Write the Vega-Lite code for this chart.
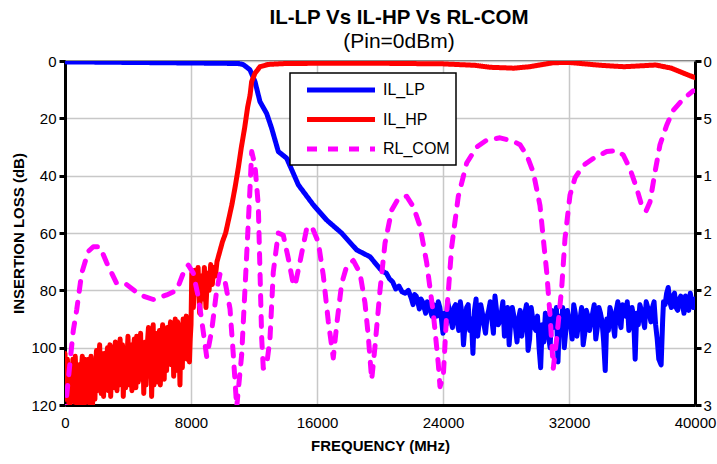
{
  "$schema": "https://vega.github.io/schema/vega-lite/v6.json",
  "width": 630,
  "height": 344,
  "autosize": {"type": "none"},
  "padding": {"left": 65, "top": 61, "right": 22, "bottom": 59},
  "background": "white",
  "title": {
    "text": "IL-LP Vs IL-HP Vs RL-COM",
    "subtitle": "(Pin=0dBm)",
    "font": "Liberation Sans",
    "fontSize": 20.5,
    "fontWeight": "bold",
    "color": "black",
    "subtitleFont": "Liberation Sans",
    "subtitleFontSize": 21,
    "subtitleColor": "black",
    "subtitlePadding": 3,
    "anchor": "middle",
    "frame": "group",
    "dx": 19,
    "offset": 2
  },
  "data": {
    "values": [
      {"s": "IL_LP", "f": 0, "v": 0.3}, {"s": "IL_LP", "f": 2000, "v": 0.4}, {"s": "IL_LP", "f": 4000, "v": 0.5},
      {"s": "IL_LP", "f": 6000, "v": 0.6}, {"s": "IL_LP", "f": 8000, "v": 0.7}, {"s": "IL_LP", "f": 10000, "v": 0.8},
      {"s": "IL_LP", "f": 11000, "v": 0.9}, {"s": "IL_LP", "f": 11300, "v": 1.2}, {"s": "IL_LP", "f": 11500, "v": 2},
      {"s": "IL_LP", "f": 11745, "v": 3.1}, {"s": "IL_LP", "f": 12063, "v": 7.2}, {"s": "IL_LP", "f": 12380, "v": 14.2},
      {"s": "IL_LP", "f": 12804, "v": 18.3}, {"s": "IL_LP", "f": 13122, "v": 23.5}, {"s": "IL_LP", "f": 13545, "v": 31.6},
      {"s": "IL_LP", "f": 14074, "v": 33.9}, {"s": "IL_LP", "f": 14814, "v": 43.2}, {"s": "IL_LP", "f": 15767, "v": 50.2},
      {"s": "IL_LP", "f": 16614, "v": 55.5}, {"s": "IL_LP", "f": 17560, "v": 60}, {"s": "IL_LP", "f": 18520, "v": 65.9},
      {"s": "IL_LP", "f": 19365, "v": 68.3}, {"s": "IL_LP", "f": 20000, "v": 72.5}, {"s": "IL_LP", "f": 20200, "v": 73.5},
      {"s": "IL_LP", "f": 20400, "v": 74}, {"s": "IL_LP", "f": 20600, "v": 76}, {"s": "IL_LP", "f": 20800, "v": 77},
      {"s": "IL_LP", "f": 21000, "v": 79.5}, {"s": "IL_LP", "f": 21200, "v": 78.5}, {"s": "IL_LP", "f": 21400, "v": 80.5},
      {"s": "IL_LP", "f": 21600, "v": 81}, {"s": "IL_LP", "f": 21800, "v": 80}, {"s": "IL_LP", "f": 22000, "v": 83},
      {"s": "IL_LP", "f": 22100, "v": 85}, {"s": "IL_LP", "f": 22200, "v": 81.5}, {"s": "IL_LP", "f": 22300, "v": 82},
      {"s": "IL_LP", "f": 22400, "v": 84}, {"s": "IL_LP", "f": 22500, "v": 86.5}, {"s": "IL_LP", "f": 22600, "v": 83},
      {"s": "IL_LP", "f": 22700, "v": 84}, {"s": "IL_LP", "f": 22800, "v": 86}, {"s": "IL_LP", "f": 22900, "v": 88},
      {"s": "IL_LP", "f": 23000, "v": 84}, {"s": "IL_LP", "f": 23100, "v": 85}, {"s": "IL_LP", "f": 23200, "v": 87},
      {"s": "IL_LP", "f": 23300, "v": 89}, {"s": "IL_LP", "f": 23400, "v": 85}, {"s": "IL_LP", "f": 23500, "v": 87},
      {"s": "IL_LP", "f": 23600, "v": 89}, {"s": "IL_LP", "f": 23700, "v": 84}, {"s": "IL_LP", "f": 23800, "v": 86},
      {"s": "IL_LP", "f": 23900, "v": 90}, {"s": "IL_LP", "f": 24000, "v": 95}, {"s": "IL_LP", "f": 24100, "v": 88},
      {"s": "IL_LP", "f": 24200, "v": 92}, {"s": "IL_LP", "f": 24300, "v": 84}, {"s": "IL_LP", "f": 24400, "v": 87},
      {"s": "IL_LP", "f": 24500, "v": 90}, {"s": "IL_LP", "f": 24600, "v": 93}, {"s": "IL_LP", "f": 24700, "v": 86},
      {"s": "IL_LP", "f": 24800, "v": 85}, {"s": "IL_LP", "f": 24900, "v": 91}, {"s": "IL_LP", "f": 25000, "v": 94},
      {"s": "IL_LP", "f": 25100, "v": 84}, {"s": "IL_LP", "f": 25200, "v": 88}, {"s": "IL_LP", "f": 25300, "v": 99},
      {"s": "IL_LP", "f": 25400, "v": 92}, {"s": "IL_LP", "f": 25500, "v": 86}, {"s": "IL_LP", "f": 25600, "v": 85},
      {"s": "IL_LP", "f": 25700, "v": 94}, {"s": "IL_LP", "f": 25800, "v": 90}, {"s": "IL_LP", "f": 25900, "v": 102},
      {"s": "IL_LP", "f": 26000, "v": 87}, {"s": "IL_LP", "f": 26100, "v": 83}, {"s": "IL_LP", "f": 26200, "v": 96},
      {"s": "IL_LP", "f": 26300, "v": 91}, {"s": "IL_LP", "f": 26400, "v": 85}, {"s": "IL_LP", "f": 26500, "v": 88},
      {"s": "IL_LP", "f": 26600, "v": 92}, {"s": "IL_LP", "f": 26700, "v": 95}, {"s": "IL_LP", "f": 26800, "v": 89},
      {"s": "IL_LP", "f": 26900, "v": 87}, {"s": "IL_LP", "f": 27000, "v": 84}, {"s": "IL_LP", "f": 27100, "v": 90},
      {"s": "IL_LP", "f": 27200, "v": 95}, {"s": "IL_LP", "f": 27300, "v": 82}, {"s": "IL_LP", "f": 27400, "v": 87},
      {"s": "IL_LP", "f": 27500, "v": 92}, {"s": "IL_LP", "f": 27600, "v": 91}, {"s": "IL_LP", "f": 27700, "v": 88},
      {"s": "IL_LP", "f": 27800, "v": 84}, {"s": "IL_LP", "f": 27900, "v": 96}, {"s": "IL_LP", "f": 28000, "v": 92},
      {"s": "IL_LP", "f": 28100, "v": 86}, {"s": "IL_LP", "f": 28200, "v": 99}, {"s": "IL_LP", "f": 28300, "v": 91},
      {"s": "IL_LP", "f": 28400, "v": 86}, {"s": "IL_LP", "f": 28500, "v": 89}, {"s": "IL_LP", "f": 28600, "v": 93},
      {"s": "IL_LP", "f": 28700, "v": 98}, {"s": "IL_LP", "f": 28800, "v": 90}, {"s": "IL_LP", "f": 28900, "v": 87},
      {"s": "IL_LP", "f": 29000, "v": 96}, {"s": "IL_LP", "f": 29100, "v": 92}, {"s": "IL_LP", "f": 29200, "v": 88},
      {"s": "IL_LP", "f": 29300, "v": 85}, {"s": "IL_LP", "f": 29400, "v": 101}, {"s": "IL_LP", "f": 29500, "v": 97},
      {"s": "IL_LP", "f": 29600, "v": 86}, {"s": "IL_LP", "f": 29700, "v": 90}, {"s": "IL_LP", "f": 29800, "v": 93},
      {"s": "IL_LP", "f": 29900, "v": 94}, {"s": "IL_LP", "f": 30000, "v": 89}, {"s": "IL_LP", "f": 30100, "v": 100},
      {"s": "IL_LP", "f": 30200, "v": 107}, {"s": "IL_LP", "f": 30300, "v": 92}, {"s": "IL_LP", "f": 30400, "v": 98},
      {"s": "IL_LP", "f": 30500, "v": 88}, {"s": "IL_LP", "f": 30600, "v": 90}, {"s": "IL_LP", "f": 30700, "v": 96},
      {"s": "IL_LP", "f": 30800, "v": 100}, {"s": "IL_LP", "f": 30900, "v": 87}, {"s": "IL_LP", "f": 31000, "v": 93},
      {"s": "IL_LP", "f": 31100, "v": 91}, {"s": "IL_LP", "f": 31200, "v": 86}, {"s": "IL_LP", "f": 31300, "v": 105},
      {"s": "IL_LP", "f": 31400, "v": 89}, {"s": "IL_LP", "f": 31500, "v": 95}, {"s": "IL_LP", "f": 31600, "v": 86},
      {"s": "IL_LP", "f": 31700, "v": 100}, {"s": "IL_LP", "f": 31800, "v": 94}, {"s": "IL_LP", "f": 31900, "v": 87},
      {"s": "IL_LP", "f": 32000, "v": 90}, {"s": "IL_LP", "f": 32100, "v": 92}, {"s": "IL_LP", "f": 32200, "v": 97},
      {"s": "IL_LP", "f": 32300, "v": 85}, {"s": "IL_LP", "f": 32400, "v": 88}, {"s": "IL_LP", "f": 32500, "v": 96},
      {"s": "IL_LP", "f": 32600, "v": 92}, {"s": "IL_LP", "f": 32700, "v": 90}, {"s": "IL_LP", "f": 32800, "v": 86},
      {"s": "IL_LP", "f": 32900, "v": 99}, {"s": "IL_LP", "f": 33000, "v": 95}, {"s": "IL_LP", "f": 33100, "v": 87},
      {"s": "IL_LP", "f": 33200, "v": 89}, {"s": "IL_LP", "f": 33300, "v": 94}, {"s": "IL_LP", "f": 33400, "v": 91},
      {"s": "IL_LP", "f": 33500, "v": 88}, {"s": "IL_LP", "f": 33600, "v": 85}, {"s": "IL_LP", "f": 33700, "v": 97},
      {"s": "IL_LP", "f": 33800, "v": 93}, {"s": "IL_LP", "f": 33900, "v": 86}, {"s": "IL_LP", "f": 34000, "v": 88},
      {"s": "IL_LP", "f": 34100, "v": 91}, {"s": "IL_LP", "f": 34200, "v": 98}, {"s": "IL_LP", "f": 34300, "v": 108},
      {"s": "IL_LP", "f": 34400, "v": 90}, {"s": "IL_LP", "f": 34500, "v": 94}, {"s": "IL_LP", "f": 34600, "v": 86},
      {"s": "IL_LP", "f": 34700, "v": 88}, {"s": "IL_LP", "f": 34800, "v": 92}, {"s": "IL_LP", "f": 34900, "v": 96},
      {"s": "IL_LP", "f": 35000, "v": 87}, {"s": "IL_LP", "f": 35100, "v": 84}, {"s": "IL_LP", "f": 35200, "v": 90},
      {"s": "IL_LP", "f": 35300, "v": 93}, {"s": "IL_LP", "f": 35400, "v": 85}, {"s": "IL_LP", "f": 35500, "v": 88},
      {"s": "IL_LP", "f": 35600, "v": 89}, {"s": "IL_LP", "f": 35700, "v": 84}, {"s": "IL_LP", "f": 35800, "v": 94},
      {"s": "IL_LP", "f": 35900, "v": 91}, {"s": "IL_LP", "f": 36000, "v": 86}, {"s": "IL_LP", "f": 36100, "v": 89},
      {"s": "IL_LP", "f": 36200, "v": 104}, {"s": "IL_LP", "f": 36300, "v": 88}, {"s": "IL_LP", "f": 36400, "v": 92},
      {"s": "IL_LP", "f": 36500, "v": 85}, {"s": "IL_LP", "f": 36600, "v": 87}, {"s": "IL_LP", "f": 36700, "v": 90},
      {"s": "IL_LP", "f": 36800, "v": 93}, {"s": "IL_LP", "f": 36900, "v": 84}, {"s": "IL_LP", "f": 37000, "v": 86},
      {"s": "IL_LP", "f": 37100, "v": 88}, {"s": "IL_LP", "f": 37200, "v": 91}, {"s": "IL_LP", "f": 37300, "v": 86},
      {"s": "IL_LP", "f": 37400, "v": 84}, {"s": "IL_LP", "f": 37500, "v": 92}, {"s": "IL_LP", "f": 37600, "v": 97},
      {"s": "IL_LP", "f": 37700, "v": 104}, {"s": "IL_LP", "f": 37850, "v": 106}, {"s": "IL_LP", "f": 37950, "v": 90},
      {"s": "IL_LP", "f": 38000, "v": 84}, {"s": "IL_LP", "f": 38100, "v": 85}, {"s": "IL_LP", "f": 38200, "v": 81},
      {"s": "IL_LP", "f": 38300, "v": 79}, {"s": "IL_LP", "f": 38400, "v": 84}, {"s": "IL_LP", "f": 38500, "v": 86},
      {"s": "IL_LP", "f": 38600, "v": 82}, {"s": "IL_LP", "f": 38700, "v": 81}, {"s": "IL_LP", "f": 38800, "v": 86},
      {"s": "IL_LP", "f": 38900, "v": 87}, {"s": "IL_LP", "f": 39000, "v": 83}, {"s": "IL_LP", "f": 39100, "v": 82},
      {"s": "IL_LP", "f": 39200, "v": 85}, {"s": "IL_LP", "f": 39300, "v": 88}, {"s": "IL_LP", "f": 39400, "v": 82},
      {"s": "IL_LP", "f": 39500, "v": 84}, {"s": "IL_LP", "f": 39600, "v": 87}, {"s": "IL_LP", "f": 39700, "v": 81},
      {"s": "IL_LP", "f": 39800, "v": 84}, {"s": "IL_LP", "f": 39900, "v": 86}, {"s": "IL_LP", "f": 40000, "v": 83},

      {"s": "IL_HP", "f": 0, "v": 102}, {"s": "IL_HP", "f": 50, "v": 114}, {"s": "IL_HP", "f": 100, "v": 118},
      {"s": "IL_HP", "f": 150, "v": 104}, {"s": "IL_HP", "f": 200, "v": 108}, {"s": "IL_HP", "f": 250, "v": 120},
      {"s": "IL_HP", "f": 300, "v": 121}, {"s": "IL_HP", "f": 350, "v": 106}, {"s": "IL_HP", "f": 400, "v": 112},
      {"s": "IL_HP", "f": 450, "v": 118}, {"s": "IL_HP", "f": 500, "v": 104}, {"s": "IL_HP", "f": 550, "v": 109},
      {"s": "IL_HP", "f": 600, "v": 119}, {"s": "IL_HP", "f": 650, "v": 103}, {"s": "IL_HP", "f": 700, "v": 110},
      {"s": "IL_HP", "f": 750, "v": 115}, {"s": "IL_HP", "f": 800, "v": 122}, {"s": "IL_HP", "f": 850, "v": 112},
      {"s": "IL_HP", "f": 900, "v": 106}, {"s": "IL_HP", "f": 950, "v": 120}, {"s": "IL_HP", "f": 1000, "v": 116},
      {"s": "IL_HP", "f": 1050, "v": 107}, {"s": "IL_HP", "f": 1100, "v": 103}, {"s": "IL_HP", "f": 1150, "v": 114},
      {"s": "IL_HP", "f": 1200, "v": 120}, {"s": "IL_HP", "f": 1250, "v": 104}, {"s": "IL_HP", "f": 1300, "v": 109},
      {"s": "IL_HP", "f": 1350, "v": 119}, {"s": "IL_HP", "f": 1400, "v": 117}, {"s": "IL_HP", "f": 1450, "v": 108},
      {"s": "IL_HP", "f": 1500, "v": 104}, {"s": "IL_HP", "f": 1550, "v": 113}, {"s": "IL_HP", "f": 1600, "v": 121},
      {"s": "IL_HP", "f": 1650, "v": 103}, {"s": "IL_HP", "f": 1700, "v": 111}, {"s": "IL_HP", "f": 1750, "v": 120},
      {"s": "IL_HP", "f": 1800, "v": 105}, {"s": "IL_HP", "f": 1850, "v": 110}, {"s": "IL_HP", "f": 1900, "v": 118},
      {"s": "IL_HP", "f": 1950, "v": 106}, {"s": "IL_HP", "f": 2000, "v": 101}, {"s": "IL_HP", "f": 2050, "v": 115},
      {"s": "IL_HP", "f": 2100, "v": 113}, {"s": "IL_HP", "f": 2150, "v": 104}, {"s": "IL_HP", "f": 2200, "v": 99},
      {"s": "IL_HP", "f": 2250, "v": 110}, {"s": "IL_HP", "f": 2300, "v": 116}, {"s": "IL_HP", "f": 2350, "v": 102},
      {"s": "IL_HP", "f": 2400, "v": 108}, {"s": "IL_HP", "f": 2450, "v": 117}, {"s": "IL_HP", "f": 2500, "v": 102},
      {"s": "IL_HP", "f": 2550, "v": 109}, {"s": "IL_HP", "f": 2600, "v": 114}, {"s": "IL_HP", "f": 2650, "v": 103},
      {"s": "IL_HP", "f": 2700, "v": 100}, {"s": "IL_HP", "f": 2750, "v": 115}, {"s": "IL_HP", "f": 2800, "v": 111},
      {"s": "IL_HP", "f": 2850, "v": 99}, {"s": "IL_HP", "f": 2900, "v": 117}, {"s": "IL_HP", "f": 2950, "v": 108},
      {"s": "IL_HP", "f": 3000, "v": 103}, {"s": "IL_HP", "f": 3050, "v": 114}, {"s": "IL_HP", "f": 3100, "v": 109},
      {"s": "IL_HP", "f": 3150, "v": 100}, {"s": "IL_HP", "f": 3200, "v": 98}, {"s": "IL_HP", "f": 3250, "v": 110},
      {"s": "IL_HP", "f": 3300, "v": 115}, {"s": "IL_HP", "f": 3350, "v": 102}, {"s": "IL_HP", "f": 3400, "v": 106},
      {"s": "IL_HP", "f": 3450, "v": 113}, {"s": "IL_HP", "f": 3500, "v": 97}, {"s": "IL_HP", "f": 3550, "v": 105},
      {"s": "IL_HP", "f": 3600, "v": 112}, {"s": "IL_HP", "f": 3650, "v": 99}, {"s": "IL_HP", "f": 3700, "v": 117},
      {"s": "IL_HP", "f": 3750, "v": 108}, {"s": "IL_HP", "f": 3800, "v": 101}, {"s": "IL_HP", "f": 3850, "v": 114},
      {"s": "IL_HP", "f": 3900, "v": 108}, {"s": "IL_HP", "f": 3950, "v": 102}, {"s": "IL_HP", "f": 4000, "v": 96},
      {"s": "IL_HP", "f": 4050, "v": 107}, {"s": "IL_HP", "f": 4100, "v": 113}, {"s": "IL_HP", "f": 4150, "v": 99},
      {"s": "IL_HP", "f": 4200, "v": 104}, {"s": "IL_HP", "f": 4250, "v": 115}, {"s": "IL_HP", "f": 4300, "v": 110},
      {"s": "IL_HP", "f": 4350, "v": 101}, {"s": "IL_HP", "f": 4400, "v": 97}, {"s": "IL_HP", "f": 4450, "v": 106},
      {"s": "IL_HP", "f": 4500, "v": 114}, {"s": "IL_HP", "f": 4550, "v": 96}, {"s": "IL_HP", "f": 4600, "v": 100},
      {"s": "IL_HP", "f": 4650, "v": 112}, {"s": "IL_HP", "f": 4700, "v": 108}, {"s": "IL_HP", "f": 4750, "v": 103},
      {"s": "IL_HP", "f": 4800, "v": 95}, {"s": "IL_HP", "f": 4850, "v": 109}, {"s": "IL_HP", "f": 4900, "v": 111},
      {"s": "IL_HP", "f": 4950, "v": 99}, {"s": "IL_HP", "f": 5000, "v": 116}, {"s": "IL_HP", "f": 5050, "v": 104},
      {"s": "IL_HP", "f": 5100, "v": 98}, {"s": "IL_HP", "f": 5150, "v": 113}, {"s": "IL_HP", "f": 5200, "v": 105},
      {"s": "IL_HP", "f": 5250, "v": 97}, {"s": "IL_HP", "f": 5300, "v": 93}, {"s": "IL_HP", "f": 5350, "v": 102},
      {"s": "IL_HP", "f": 5400, "v": 110}, {"s": "IL_HP", "f": 5450, "v": 95}, {"s": "IL_HP", "f": 5500, "v": 117},
      {"s": "IL_HP", "f": 5550, "v": 106}, {"s": "IL_HP", "f": 5600, "v": 92}, {"s": "IL_HP", "f": 5650, "v": 113},
      {"s": "IL_HP", "f": 5700, "v": 103}, {"s": "IL_HP", "f": 5750, "v": 95}, {"s": "IL_HP", "f": 5800, "v": 96},
      {"s": "IL_HP", "f": 5850, "v": 104}, {"s": "IL_HP", "f": 5900, "v": 112}, {"s": "IL_HP", "f": 5950, "v": 99},
      {"s": "IL_HP", "f": 6000, "v": 94}, {"s": "IL_HP", "f": 6050, "v": 113}, {"s": "IL_HP", "f": 6100, "v": 107},
      {"s": "IL_HP", "f": 6150, "v": 96}, {"s": "IL_HP", "f": 6200, "v": 92}, {"s": "IL_HP", "f": 6250, "v": 105},
      {"s": "IL_HP", "f": 6300, "v": 111}, {"s": "IL_HP", "f": 6350, "v": 94}, {"s": "IL_HP", "f": 6400, "v": 98},
      {"s": "IL_HP", "f": 6450, "v": 108}, {"s": "IL_HP", "f": 6500, "v": 93}, {"s": "IL_HP", "f": 6550, "v": 101},
      {"s": "IL_HP", "f": 6600, "v": 104}, {"s": "IL_HP", "f": 6650, "v": 94}, {"s": "IL_HP", "f": 6700, "v": 91},
      {"s": "IL_HP", "f": 6750, "v": 106}, {"s": "IL_HP", "f": 6800, "v": 100}, {"s": "IL_HP", "f": 6850, "v": 93},
      {"s": "IL_HP", "f": 6900, "v": 110}, {"s": "IL_HP", "f": 6950, "v": 99}, {"s": "IL_HP", "f": 7000, "v": 90},
      {"s": "IL_HP", "f": 7050, "v": 108}, {"s": "IL_HP", "f": 7100, "v": 97}, {"s": "IL_HP", "f": 7150, "v": 91},
      {"s": "IL_HP", "f": 7200, "v": 92}, {"s": "IL_HP", "f": 7250, "v": 101}, {"s": "IL_HP", "f": 7300, "v": 113},
      {"s": "IL_HP", "f": 7350, "v": 96}, {"s": "IL_HP", "f": 7400, "v": 95}, {"s": "IL_HP", "f": 7450, "v": 107},
      {"s": "IL_HP", "f": 7500, "v": 90}, {"s": "IL_HP", "f": 7550, "v": 94}, {"s": "IL_HP", "f": 7600, "v": 102},
      {"s": "IL_HP", "f": 7650, "v": 92}, {"s": "IL_HP", "f": 7700, "v": 89}, {"s": "IL_HP", "f": 7750, "v": 104},
      {"s": "IL_HP", "f": 7800, "v": 96}, {"s": "IL_HP", "f": 7850, "v": 91}, {"s": "IL_HP", "f": 7900, "v": 105},
      {"s": "IL_HP", "f": 7950, "v": 97}, {"s": "IL_HP", "f": 8000, "v": 92},
      {"s": "IL_HP", "f": 8050, "v": 74}, {"s": "IL_HP", "f": 8150, "v": 86}, {"s": "IL_HP", "f": 8250, "v": 73},
      {"s": "IL_HP", "f": 8350, "v": 81}, {"s": "IL_HP", "f": 8450, "v": 72}, {"s": "IL_HP", "f": 8550, "v": 88},
      {"s": "IL_HP", "f": 8650, "v": 75}, {"s": "IL_HP", "f": 8750, "v": 83}, {"s": "IL_HP", "f": 8850, "v": 72},
      {"s": "IL_HP", "f": 8950, "v": 86}, {"s": "IL_HP", "f": 9050, "v": 74}, {"s": "IL_HP", "f": 9150, "v": 80},
      {"s": "IL_HP", "f": 9250, "v": 71}, {"s": "IL_HP", "f": 9350, "v": 78}, {"s": "IL_HP", "f": 9450, "v": 72},
      {"s": "IL_HP", "f": 9550, "v": 75}, {"s": "IL_HP", "f": 9650, "v": 70}, {"s": "IL_HP", "f": 9750, "v": 68},
      {"s": "IL_HP", "f": 9850, "v": 66}, {"s": "IL_HP", "f": 10000, "v": 63}, {"s": "IL_HP", "f": 10200, "v": 60},
      {"s": "IL_HP", "f": 10400, "v": 55}, {"s": "IL_HP", "f": 10600, "v": 50}, {"s": "IL_HP", "f": 10800, "v": 44},
      {"s": "IL_HP", "f": 11000, "v": 37.4}, {"s": "IL_HP", "f": 11200, "v": 30}, {"s": "IL_HP", "f": 11400, "v": 23.5},
      {"s": "IL_HP", "f": 11600, "v": 16}, {"s": "IL_HP", "f": 11750, "v": 11.9}, {"s": "IL_HP", "f": 11850, "v": 7.2},
      {"s": "IL_HP", "f": 12060, "v": 4.3}, {"s": "IL_HP", "f": 12380, "v": 2}, {"s": "IL_HP", "f": 12900, "v": 1.2},
      {"s": "IL_HP", "f": 13900, "v": 0.9}, {"s": "IL_HP", "f": 16000, "v": 0.8}, {"s": "IL_HP", "f": 20000, "v": 0.8},
      {"s": "IL_HP", "f": 24000, "v": 1.0}, {"s": "IL_HP", "f": 26000, "v": 1.5}, {"s": "IL_HP", "f": 27000, "v": 2.2},
      {"s": "IL_HP", "f": 28500, "v": 2.5}, {"s": "IL_HP", "f": 29500, "v": 2.0}, {"s": "IL_HP", "f": 31000, "v": 0.6},
      {"s": "IL_HP", "f": 32000, "v": 0.5}, {"s": "IL_HP", "f": 34000, "v": 1.5}, {"s": "IL_HP", "f": 35500, "v": 2.0},
      {"s": "IL_HP", "f": 37500, "v": 1.4}, {"s": "IL_HP", "f": 38500, "v": 2.5}, {"s": "IL_HP", "f": 39300, "v": 4.3},
      {"s": "IL_HP", "f": 40000, "v": 5.8},

      {"s": "RL_COM", "f": 0, "v": 31}, {"s": "RL_COM", "f": 63, "v": 29.8}, {"s": "RL_COM", "f": 317, "v": 26.3},
      {"s": "RL_COM", "f": 527, "v": 23.5}, {"s": "RL_COM", "f": 743, "v": 21.7}, {"s": "RL_COM", "f": 1060, "v": 18.5},
      {"s": "RL_COM", "f": 1480, "v": 16.6}, {"s": "RL_COM", "f": 1797, "v": 16.2}, {"s": "RL_COM", "f": 2222, "v": 16.2},
      {"s": "RL_COM", "f": 2648, "v": 17.6}, {"s": "RL_COM", "f": 3282, "v": 19.4}, {"s": "RL_COM", "f": 3917, "v": 19.5},
      {"s": "RL_COM", "f": 4762, "v": 20.4}, {"s": "RL_COM", "f": 5606, "v": 20.8}, {"s": "RL_COM", "f": 6457, "v": 20.4},
      {"s": "RL_COM", "f": 7092, "v": 20.0}, {"s": "RL_COM", "f": 7619, "v": 18.1}, {"s": "RL_COM", "f": 7828, "v": 17.8},
      {"s": "RL_COM", "f": 8146, "v": 18.5}, {"s": "RL_COM", "f": 8463, "v": 20.6}, {"s": "RL_COM", "f": 8679, "v": 22.6},
      {"s": "RL_COM", "f": 8997, "v": 25.8}, {"s": "RL_COM", "f": 9314, "v": 23.5}, {"s": "RL_COM", "f": 9631, "v": 20.0},
      {"s": "RL_COM", "f": 9841, "v": 18.6}, {"s": "RL_COM", "f": 10158, "v": 19.2}, {"s": "RL_COM", "f": 10476, "v": 21.6},
      {"s": "RL_COM", "f": 10685, "v": 25.6}, {"s": "RL_COM", "f": 10901, "v": 30.2}, {"s": "RL_COM", "f": 11219, "v": 25.6},
      {"s": "RL_COM", "f": 11536, "v": 16.9}, {"s": "RL_COM", "f": 11746, "v": 11.1}, {"s": "RL_COM", "f": 11854, "v": 7.9},
      {"s": "RL_COM", "f": 12063, "v": 9.1}, {"s": "RL_COM", "f": 12273, "v": 12.6}, {"s": "RL_COM", "f": 12381, "v": 18.4},
      {"s": "RL_COM", "f": 12489, "v": 24.2}, {"s": "RL_COM", "f": 12590, "v": 26.8}, {"s": "RL_COM", "f": 12806, "v": 26.5},
      {"s": "RL_COM", "f": 13015, "v": 24.2}, {"s": "RL_COM", "f": 13225, "v": 18.4}, {"s": "RL_COM", "f": 13542, "v": 15.0},
      {"s": "RL_COM", "f": 13860, "v": 15.2}, {"s": "RL_COM", "f": 14177, "v": 17.2}, {"s": "RL_COM", "f": 14495, "v": 19.5},
      {"s": "RL_COM", "f": 14603, "v": 19.6}, {"s": "RL_COM", "f": 14920, "v": 17.5}, {"s": "RL_COM", "f": 15346, "v": 14.6},
      {"s": "RL_COM", "f": 15663, "v": 14.4}, {"s": "RL_COM", "f": 16082, "v": 15.8}, {"s": "RL_COM", "f": 16400, "v": 18.7},
      {"s": "RL_COM", "f": 16717, "v": 22.7}, {"s": "RL_COM", "f": 17034, "v": 25.9}, {"s": "RL_COM", "f": 17250, "v": 23},
      {"s": "RL_COM", "f": 17568, "v": 19.4}, {"s": "RL_COM", "f": 17885, "v": 17.9}, {"s": "RL_COM", "f": 18304, "v": 17.4},
      {"s": "RL_COM", "f": 18730, "v": 18.5}, {"s": "RL_COM", "f": 19047, "v": 21.1}, {"s": "RL_COM", "f": 19257, "v": 24.0},
      {"s": "RL_COM", "f": 19473, "v": 27.8}, {"s": "RL_COM", "f": 19682, "v": 24.9}, {"s": "RL_COM", "f": 20000, "v": 20.0},
      {"s": "RL_COM", "f": 20317, "v": 15.9}, {"s": "RL_COM", "f": 20742, "v": 13.0}, {"s": "RL_COM", "f": 21161, "v": 12.0},
      {"s": "RL_COM", "f": 21695, "v": 11.8}, {"s": "RL_COM", "f": 22114, "v": 12.7}, {"s": "RL_COM", "f": 22539, "v": 14.4},
      {"s": "RL_COM", "f": 22965, "v": 17.6}, {"s": "RL_COM", "f": 23384, "v": 22.0}, {"s": "RL_COM", "f": 23701, "v": 26.4},
      {"s": "RL_COM", "f": 23809, "v": 28.4}, {"s": "RL_COM", "f": 24019, "v": 27.5}, {"s": "RL_COM", "f": 24234, "v": 22.0},
      {"s": "RL_COM", "f": 24552, "v": 16.2}, {"s": "RL_COM", "f": 24971, "v": 11.8}, {"s": "RL_COM", "f": 25504, "v": 8.9},
      {"s": "RL_COM", "f": 26139, "v": 7.5}, {"s": "RL_COM", "f": 26774, "v": 6.9}, {"s": "RL_COM", "f": 27618, "v": 6.7},
      {"s": "RL_COM", "f": 28463, "v": 7.0}, {"s": "RL_COM", "f": 28888, "v": 7.3}, {"s": "RL_COM", "f": 29314, "v": 8.2},
      {"s": "RL_COM", "f": 29733, "v": 9.7}, {"s": "RL_COM", "f": 30158, "v": 12.6}, {"s": "RL_COM", "f": 30368, "v": 15.5},
      {"s": "RL_COM", "f": 30584, "v": 18.4}, {"s": "RL_COM", "f": 30793, "v": 22.1}, {"s": "RL_COM", "f": 31003, "v": 26.8},
      {"s": "RL_COM", "f": 31219, "v": 24.2}, {"s": "RL_COM", "f": 31536, "v": 19.8}, {"s": "RL_COM", "f": 31745, "v": 15.5},
      {"s": "RL_COM", "f": 32062, "v": 11.7}, {"s": "RL_COM", "f": 32380, "v": 10.2}, {"s": "RL_COM", "f": 32907, "v": 9.1},
      {"s": "RL_COM", "f": 33542, "v": 8.5}, {"s": "RL_COM", "f": 34393, "v": 7.9}, {"s": "RL_COM", "f": 35027, "v": 7.8},
      {"s": "RL_COM", "f": 35446, "v": 8.2}, {"s": "RL_COM", "f": 35872, "v": 9.4}, {"s": "RL_COM", "f": 36297, "v": 11.1},
      {"s": "RL_COM", "f": 36615, "v": 12.6}, {"s": "RL_COM", "f": 36888, "v": 13.1}, {"s": "RL_COM", "f": 37142, "v": 12.3},
      {"s": "RL_COM", "f": 37460, "v": 9.7}, {"s": "RL_COM", "f": 37777, "v": 7.3}, {"s": "RL_COM", "f": 38202, "v": 5.6},
      {"s": "RL_COM", "f": 38621, "v": 4.3}, {"s": "RL_COM", "f": 39256, "v": 3.3}, {"s": "RL_COM", "f": 39891, "v": 2.6}
    ]
  },
  "layer": [
    {
      "encoding": {
        "x": {
          "field": "f", "type": "quantitative",
          "scale": {"domain": [0, 40000], "nice": false, "zero": false},
          "axis": {
            "title": "FREQUENCY (MHz)",
            "values": [0, 8000, 16000, 24000, 32000, 40000],
            "format": "d",
            "ticks": false,
            "labelPadding": 10,
            "titlePadding": 8,
            "labelFlush": false,
            "grid": true
          }
        },
        "y": {
          "field": "v", "type": "quantitative",
          "scale": {"domain": [0, 120], "reverse": true, "nice": false},
          "axis": {
            "title": "INSERTION LOSS (dB)",
            "orient": "left",
            "values": [0, 20, 40, 60, 80, 100, 120],
            "labelPadding": 3,
            "titlePadding": 4,
            "grid": true
          }
        },
        "color": {
          "field": "s", "type": "nominal",
          "scale": {"domain": ["IL_LP", "IL_HP", "RL_COM"], "range": ["#0000FF", "#FF0000", "#FF00FF"]},
          "legend": {"title": null, "encoding": {"labels": {"update": {"text": {"signal": "datum.label + '\u00a0\u00a0\u00a0\u00a0\u200b'"}}}}}
        },
        "strokeDash": {
          "field": "s", "type": "nominal",
          "scale": {"domain": ["IL_LP", "IL_HP", "RL_COM"], "range": [[1, 0], [1, 0], [10, 11]]},
          "legend": {"title": null, "encoding": {"labels": {"update": {"text": {"signal": "datum.label + '\u00a0\u00a0\u00a0\u00a0\u200b'"}}}}}
        }
      },
      "layer": [
        {
          "transform": [{"filter": "datum.s === 'IL_LP'"}],
          "mark": {"type": "line", "strokeWidth": 5, "clip": true, "strokeJoin": "round", "strokeCap": "round"}
        },
        {
          "transform": [{"filter": "datum.s === 'IL_HP'"}],
          "mark": {"type": "line", "strokeWidth": 5, "clip": true, "strokeJoin": "round", "strokeCap": "round"}
        }
      ]
    },
    {
      "transform": [{"filter": "datum.s === 'RL_COM'"}],
      "mark": {"type": "line", "strokeWidth": 5, "clip": true, "strokeCap": "round", "strokeJoin": "round"},
      "encoding": {
        "x": {"field": "f", "type": "quantitative"},
        "y": {
          "field": "v", "type": "quantitative",
          "scale": {"domain": [0, 30], "reverse": true, "nice": false},
          "axis": {
            "title": null,
            "orient": "right",
            "values": [0, 5, 10, 15, 20, 25, 30],
            "labelExpr": "substring(datum.label, 0, 1)",
            "labelPadding": 2,
            "grid": false
          }
        },
        "color": {
          "field": "s", "type": "nominal",
          "scale": {"domain": ["IL_LP", "IL_HP", "RL_COM"], "range": ["#0000FF", "#FF0000", "#FF00FF"]},
          "legend": {"title": null, "encoding": {"labels": {"update": {"text": {"signal": "datum.label + '\u00a0\u00a0\u00a0\u00a0\u200b'"}}}}}
        },
        "strokeDash": {
          "field": "s", "type": "nominal",
          "scale": {"domain": ["IL_LP", "IL_HP", "RL_COM"], "range": [[1, 0], [1, 0], [10, 11]]},
          "legend": {"title": null, "encoding": {"labels": {"update": {"text": {"signal": "datum.label + '\u00a0\u00a0\u00a0\u00a0\u200b'"}}}}}
        }
      }
    }
  ],
  "resolve": {"scale": {"y": "independent"}},
  "config": {
    "font": "Liberation Sans",
    "view": {"stroke": "#707070", "strokeWidth": 2},
    "axis": {
      "labelFont": "Liberation Sans",
      "labelFontSize": 15,
      "labelColor": "black",
      "titleFont": "Liberation Sans",
      "titleFontSize": 15,
      "titleFontWeight": "bold",
      "titleColor": "black",
      "domainColor": "black",
      "domainWidth": 3,
      "tickColor": "black",
      "tickWidth": 3,
      "tickSize": 6,
      "gridColor": "#c8c8c8",
      "gridWidth": 1.5
    },
    "legend": {
      "orient": "none",
      "legendX": 225,
      "legendY": 12,
      "fillColor": "white",
      "strokeColor": "black",
      "strokeWidth": 1.5,
      "padding": 6,
      "symbolType": "M-4,0H4",
      "symbolSize": 289,
      "symbolStrokeWidth": 5,
      "symbolOffset": 34,
      "labelOffset": 31,
      "labelFont": "Liberation Sans",
      "labelFontSize": 16,
      "labelColor": "black",
      "rowPadding": 8.5
    }
  }
}
